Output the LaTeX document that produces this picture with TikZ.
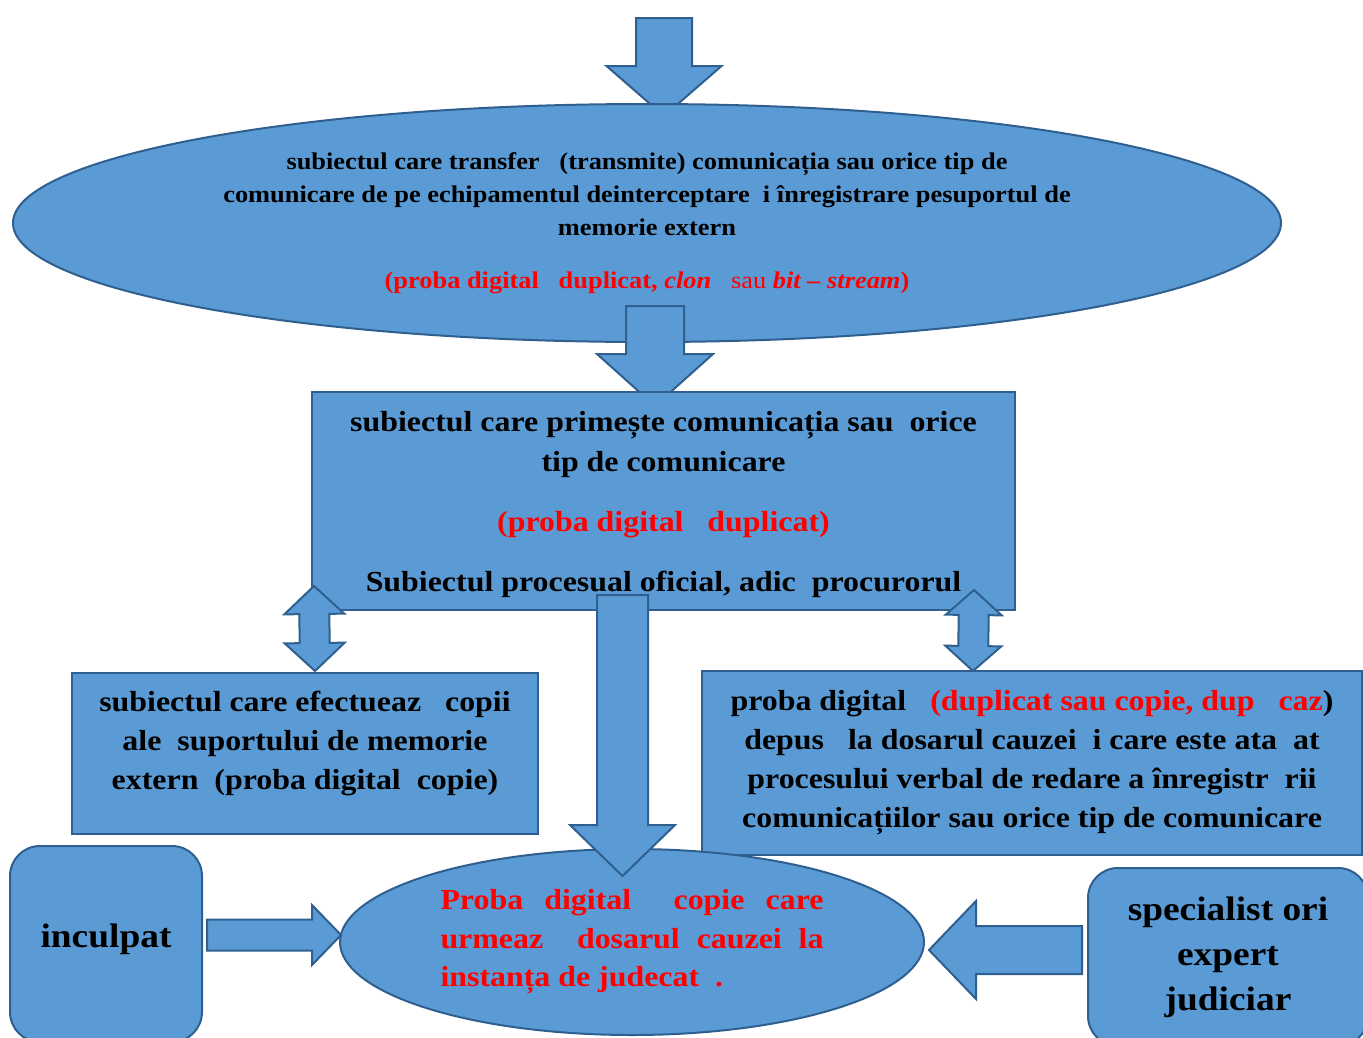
\documentclass[tikz,border=0pt]{standalone}
\usepackage{fontspec}
\setmainfont[FakeStretch=1.1]{Liberation Serif}
\usetikzlibrary{calc, shapes.geometric}

\definecolor{boxblue}{HTML}{5B9BD5}
\definecolor{edgeblue}{HTML}{2F5F8F}
\definecolor{probred}{HTML}{FF0000}

\pgfdeclarelayer{back}
\pgfdeclarelayer{mid}
\pgfdeclarelayer{front}
\pgfsetlayers{back,mid,main,front}

\tikzset{
  bluebox/.style={fill=boxblue, draw=edgeblue, line width=2pt},
  plainbox/.style={bluebox, rectangle, inner sep=0pt, align=center},
  roundbox/.style={bluebox, rectangle, rounded corners=30pt, inner sep=0pt, align=center},
  ovalbox/.style={bluebox, ellipse, inner sep=0pt, align=center}
}

% block arrow: from, tip, half shaft, half head, head length
\newcommand{\blockarrow}[5]{%
  \coordinate (ba-n) at ($(#2)!#5!(#1)$);
  \filldraw[bluebox, line join=miter]
    ($(#1)!#3!90:(#2)$) -- ($(ba-n)!#3!-90:(#1)$) -- ($(ba-n)!#4!-90:(#1)$)
    -- (#2) -- ($(ba-n)!#4!90:(#1)$) -- ($(ba-n)!#3!90:(#1)$)
    -- ($(#1)!#3!-90:(#2)$) -- cycle;
}
% double block arrow: tip, tip, half shaft, half head, head length
\newcommand{\dblarrow}[5]{%
  \coordinate (da-a) at ($(#1)!#5!(#2)$);
  \coordinate (da-b) at ($(#2)!#5!(#1)$);
  \filldraw[bluebox, line join=miter]
    (#1) -- ($(da-a)!#4!90:(#2)$) -- ($(da-a)!#3!90:(#2)$)
    -- ($(da-b)!#3!-90:(#1)$) -- ($(da-b)!#4!-90:(#1)$)
    -- (#2) -- ($(da-b)!#4!90:(#1)$) -- ($(da-b)!#3!90:(#1)$)
    -- ($(da-a)!#3!-90:(#2)$) -- ($(da-a)!#4!-90:(#2)$) -- cycle;
}
% struts that move a text block a little
\newcommand{\liftstrut}[1]{\rule[-#1]{0pt}{0pt}}
\newcommand{\dropstrut}[1]{\rule{0pt}{#1}}

\begin{document}
\begin{tikzpicture}[x=1pt, y=-1pt, font=\bfseries]
\useasboundingbox (0,0) rectangle (1363,1037);
\clip (0,0) rectangle (1363,1037);

\coordinate (src) at (664,18);

\begin{pgfonlayer}{mid}
\node[ovalbox, minimum width=1268pt, minimum height=238pt,
      font=\bfseries\fontsize{24}{33}\selectfont] (transfer) at (647,223)
  {subiectul care transfer\ \ \ (transmite) comunicația sau orice tip de\\
   comunicare de pe echipamentul deinterceptare\ \ i înregistrare pesuportul de\\
   memorie extern\\[20pt]
   \textcolor{probred}{(proba digital\ \ \ duplicat, \textit{clon}\ \ \ \textmd{sau} \textit{bit – stream})}};
\end{pgfonlayer}

\node[plainbox, minimum width=703pt, minimum height=218pt,
      font=\bfseries\fontsize{29}{40}\selectfont] (receive) at (663.5,501)
  {\dropstrut{27pt}subiectul care primește comunicația sau\ \ orice\\
   tip de comunicare\\[20pt]
   \textcolor{probred}{(proba digital\ \ \ duplicat)}\\[20pt]
   Subiectul procesual oficial, adic\ \ procurorul};

\node[plainbox, minimum width=466pt, minimum height=161pt,
      font=\bfseries\fontsize{29}{39}\selectfont] (copies) at (305,753.5)
  {subiectul care efectueaz\ \ \ copii\\
   ale\ \ suportului de memorie\\
   extern\ \ (proba digital\ \ copie)\liftstrut{27pt}};

\node[plainbox, minimum width=660pt, minimum height=184pt,
      font=\bfseries\fontsize{29}{39}\selectfont] (deposit) at (1032,763)
  {proba digital\ \ \ \textcolor{probred}{(duplicat sau copie, dup\ \ \ caz})\\
   depus\ \ \ la dosarul cauzei\ \ i care este ata\ \ at\\
   procesului verbal de redare a înregistr\ \ rii\\
   comunicațiilor sau orice tip de comunicare};

\node[roundbox, minimum width=192pt, minimum height=196pt,
      font=\bfseries\fontsize{34}{40}\selectfont] (accused) at (106,944)
  {inculpat\liftstrut{16pt}};

\node[roundbox, minimum width=280pt, minimum height=178pt,
      font=\bfseries\fontsize{34}{45}\selectfont] (expert) at (1228,957)
  {specialist ori\\ expert\\ judiciar};

\node[ovalbox, minimum width=584pt, minimum height=186pt, text width=383pt,
      align=justify, text=probred,
      font=\bfseries\fontsize{29}{38.5}\selectfont] (court) at (632,942)
  {Proba digital\ \ copie care\linebreak
   urmeaz\ \ dosarul cauzei la\linebreak
   instanța de judecat\ \ .};

% block arrows
\begin{pgfonlayer}{back}
\blockarrow{src}{$(src |- transfer.north)+(0,13)$}{28pt}{57.5pt}{50pt}
\end{pgfonlayer}
\begin{pgfonlayer}{mid}
\blockarrow{$(transfer.south)+(8,-37)$}{$(receive.north)+(-8.5,15)$}{29pt}{58pt}{52pt}
\end{pgfonlayer}
\begin{pgfonlayer}{front}
\blockarrow{$(receive.south)+(-41,-16)$}{$(court.north)+(-9.5,28)$}{25.5pt}{52.5pt}{51pt}
\dblarrow{$(receive.south west)+(3,-25)$}{$(copies.north)+(10,-1)$}{15pt}{30pt}{28pt}
\dblarrow{$(receive.south east)+(-42,-21)$}{$(deposit.north)+(-59,1)$}{15pt}{28pt}{25pt}
\blockarrow{$(accused.east)+(4,-9)$}{$(court.west)+(2,-7)$}{15.5pt}{30pt}{29pt}
\blockarrow{$(expert.west)+(-5,-7)$}{$(court.east)+(4,8)$}{24pt}{49pt}{47pt}
\end{pgfonlayer}
\end{tikzpicture}
\end{document}
